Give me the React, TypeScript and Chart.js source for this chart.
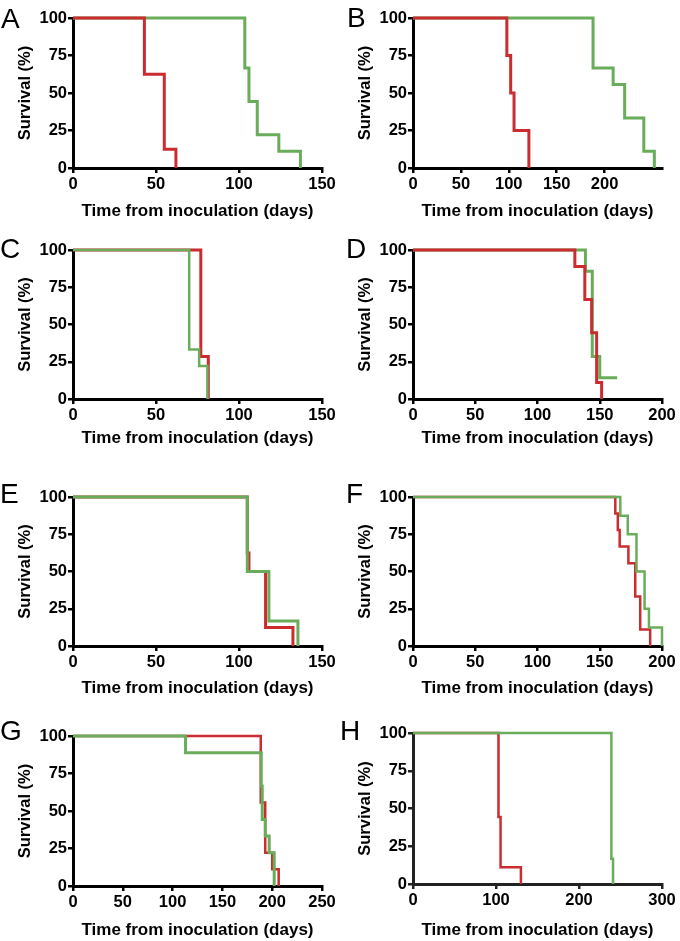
import React, { useEffect, useRef } from "react";
import { Chart, registerables } from "chart.js";

Chart.register(...registerables);

const RED = "#cc2b2f";
const GREEN = "#69ad5b";
const FONT = "'Liberation Sans', Arial, sans-serif";

const xTitleText = "Time from inoculation (days)";
const yTitleText = "Survival (%)";
const yTickValues = [0, 25, 50, 75, 100];

// Panel A
const aRedDays = [0, 43, 55, 62];
const aRedSurvival = [100, 62.5, 12.5, 0];
const aGreenDays = [0, 103.5, 106, 111, 124, 137];
const aGreenSurvival = [100, 66.7, 44.4, 22.2, 11.1, 0];

// Panel B
const bRedDays = [0, 98, 102, 105.5, 121];
const bRedSurvival = [100, 75, 50, 25, 0];
const bGreenDays = [0, 188, 209, 221, 241, 252];
const bGreenSurvival = [100, 66.7, 55.6, 33.3, 11.1, 0];

// Panel C
const cRedDays = [0, 77, 81.5];
const cRedSurvival = [100, 28.6, 0];
const cGreenDays = [0, 70, 76, 81];
const cGreenSurvival = [100, 33.3, 22.2, 0];

// Panel D
const dRedDays = [0, 130, 138, 143.5, 147.5, 151.5];
const dRedSurvival = [100, 88.9, 66.7, 44.4, 11.1, 0];
const dGreenDays = [0, 138.5, 144, 150, 164];
const dGreenSurvival = [100, 85.7, 28.6, 14.3, 14.3];

// Panel E
const eRedDays = [0, 105, 106, 116, 132.5];
const eRedSurvival = [100, 62.5, 50, 12.5, 0];
const eGreenDays = [0, 105, 118, 135.5];
const eGreenSurvival = [100, 50, 16.7, 0];

// Panel F
const fRedDays = [0, 162.5, 164.5, 166, 173, 178.5, 182.5, 190.5];
const fRedSurvival = [100, 88.9, 77.8, 66.7, 55.6, 33.3, 11.1, 0];
const fGreenDays = [0, 166.5, 172.5, 179.5, 186, 189.5, 200];
const fGreenSurvival = [100, 87.5, 75, 50, 25, 12.5, 0];

// Panel G
const gRedDays = [0, 188.5, 193, 200, 206.5];
const gRedSurvival = [100, 55.6, 22.2, 11.1, 0];
const gGreenDays = [0, 113, 189, 190, 193, 197, 202];
const gGreenSurvival = [100, 88.9, 66.7, 44.4, 33.3, 22.2, 0];

// Panel H
const hRedDays = [0, 103, 105.5, 130];
const hRedSurvival = [100, 44.4, 11.1, 0];
const hGreenDays = [0, 239, 241];
const hGreenSurvival = [100, 16.7, 0];

const xMaxes = [150, 260, 150, 200, 150, 200, 250, 300];
const xSteps = [50, 50, 50, 50, 50, 50, 50, 100];
const letters = ["A", "B", "C", "D", "E", "F", "G", "H"];

type Panel = {
  letter: string;
  redDays: number[];
  redSurv: number[];
  greenDays: number[];
  greenSurv: number[];
  xMax: number;
  xStep: number;
  redOnTop: boolean;
  redWidth: number;
  greenWidth: number;
  left: number;
  top: number;
  height: number;
  plotTop: number;
  plotBottom: number;
  titleY: number;
  letterLeft: number;
  letterTop: number;
  axisColor: string;
};

const panels: Panel[] = [
  { letter: letters[0], redDays: aRedDays, redSurv: aRedSurvival, greenDays: aGreenDays, greenSurv: aGreenSurvival, xMax: xMaxes[0], xStep: xSteps[0], redOnTop: true, redWidth: 3, greenWidth: 3, left: 0, top: 0, height: 235, plotTop: 18, plotBottom: 168, titleY: 211, letterLeft: 1, letterTop: 4.5, axisColor: "#000" },
  { letter: letters[1], redDays: bRedDays, redSurv: bRedSurvival, greenDays: bGreenDays, greenSurv: bGreenSurvival, xMax: xMaxes[1], xStep: xSteps[1], redOnTop: true, redWidth: 3, greenWidth: 3, left: 340, top: 0, height: 235, plotTop: 18, plotBottom: 168, titleY: 211, letterLeft: 347, letterTop: 3.5, axisColor: "#000" },
  { letter: letters[2], redDays: cRedDays, redSurv: cRedSurvival, greenDays: cGreenDays, greenSurv: cGreenSurvival, xMax: xMaxes[2], xStep: xSteps[2], redOnTop: false, redWidth: 3, greenWidth: 2.5, left: 0, top: 235, height: 235, plotTop: 15, plotBottom: 164, titleY: 203, letterLeft: 0, letterTop: 234.5, axisColor: "#000" },
  { letter: letters[3], redDays: dRedDays, redSurv: dRedSurvival, greenDays: dGreenDays, greenSurv: dGreenSurvival, xMax: xMaxes[3], xStep: xSteps[3], redOnTop: true, redWidth: 3, greenWidth: 3, left: 340, top: 235, height: 235, plotTop: 15, plotBottom: 164, titleY: 203, letterLeft: 346, letterTop: 234.5, axisColor: "#000" },
  { letter: letters[4], redDays: eRedDays, redSurv: eRedSurvival, greenDays: eGreenDays, greenSurv: eGreenSurvival, xMax: xMaxes[4], xStep: xSteps[4], redOnTop: false, redWidth: 3, greenWidth: 3, left: 0, top: 470, height: 235, plotTop: 27, plotBottom: 176, titleY: 218, letterLeft: 0, letterTop: 479.5, axisColor: "#000" },
  { letter: letters[5], redDays: fRedDays, redSurv: fRedSurvival, greenDays: fGreenDays, greenSurv: fGreenSurvival, xMax: xMaxes[5], xStep: xSteps[5], redOnTop: false, redWidth: 2.5, greenWidth: 2.5, left: 340, top: 470, height: 235, plotTop: 27, plotBottom: 176, titleY: 218, letterLeft: 346, letterTop: 479.5, axisColor: "#000" },
  { letter: letters[6], redDays: gRedDays, redSurv: gRedSurvival, greenDays: gGreenDays, greenSurv: gGreenSurvival, xMax: xMaxes[6], xStep: xSteps[6], redOnTop: false, redWidth: 2.5, greenWidth: 3, left: 0, top: 705, height: 236, plotTop: 31, plotBottom: 181, titleY: 225, letterLeft: 0, letterTop: 716.5, axisColor: "#000" },
  { letter: letters[7], redDays: hRedDays, redSurv: hRedSurvival, greenDays: hGreenDays, greenSurv: hGreenSurvival, xMax: xMaxes[7], xStep: xSteps[7], redOnTop: false, redWidth: 2.5, greenWidth: 2.5, left: 340, top: 705, height: 236, plotTop: 28, plotBottom: 179, titleY: 225, letterLeft: 340, letterTop: 716.5, axisColor: "#222" },
];

const PANEL_W = 340;
const PLOT_LEFT = 73;
const PLOT_RIGHT = 322;

function toPoints(days: number[], surv: number[]) {
  return days.map((d, i) => ({ x: d, y: surv[i] }));
}

function SurvivalPanel({ p }: { p: Panel }) {
  const ref = useRef<HTMLCanvasElement | null>(null);

  useEffect(() => {
    if (!ref.current) return;
    const red = {
      label: "red",
      data: toPoints(p.redDays, p.redSurv),
      borderColor: RED,
      borderWidth: p.redWidth,
      stepped: "before" as const,
      pointRadius: 0,
      fill: false,
      clip: false as any,
    };
    const green = {
      label: "green",
      data: toPoints(p.greenDays, p.greenSurv),
      borderColor: GREEN,
      borderWidth: p.greenWidth,
      stepped: "before" as const,
      pointRadius: 0,
      fill: false,
      clip: false as any,
    };
    const datasets = p.redOnTop ? [red, green] : [green, red];
    const xTitleSize = 17;
    const yTitleSize = 16.5;
    const xAxisHeight = p.height - p.plotBottom;
    const xTitlePadBottom = p.height - p.titleY - (xTitleSize * 1.2) / 2;
    const yTitlePadTop = 25 - (yTitleSize * 1.2) / 2;

    const chart = new Chart(ref.current, {
      type: "line",
      data: { datasets: datasets as any },
      options: {
        animation: false,
        responsive: false,
        maintainAspectRatio: false,
        events: [],
        layout: { padding: { left: 0, top: p.plotTop, right: PANEL_W - PLOT_RIGHT, bottom: 0 } },
        plugins: { legend: { display: false }, tooltip: { enabled: false } },
        scales: {
          x: {
            type: "linear",
            min: 0,
            max: p.xMax,
            afterBuildTicks: (s: any) => {
              s.ticks = s.ticks.filter((t: any) => t.value % p.xStep === 0);
            },
            afterFit: (s: any) => {
              s.height = xAxisHeight;
            },
            ticks: {
              stepSize: p.xStep,
              color: "#000",
              font: { family: FONT, size: 16.5, weight: "bold" },
              padding: 2,
              maxRotation: 0,
              autoSkip: false,
            },
            grid: { drawOnChartArea: false, drawTicks: true, tickLength: 5, color: p.axisColor, lineWidth: 2.5 },
            border: { color: p.axisColor, width: 3 },
            title: {
              display: true,
              text: xTitleText,
              color: "#000",
              font: { family: FONT, size: xTitleSize, weight: "bold" },
              padding: { top: 0, bottom: xTitlePadBottom },
            },
          },
          y: {
            type: "linear",
            min: 0,
            max: 100,
            afterBuildTicks: (s: any) => {
              s.ticks = yTickValues.map((v) => ({ value: v }));
            },
            afterFit: (s: any) => {
              s.width = PLOT_LEFT;
            },
            ticks: {
              stepSize: 25,
              color: "#000",
              font: { family: FONT, size: 16.5, weight: "bold" },
              padding: 1,
              autoSkip: false,
            },
            grid: { drawOnChartArea: false, drawTicks: true, tickLength: 5, color: p.axisColor, lineWidth: 2.5 },
            border: { color: p.axisColor, width: 3 },
            title: {
              display: true,
              text: yTitleText,
              color: "#000",
              font: { family: FONT, size: yTitleSize, weight: "bold" },
              padding: { top: yTitlePadTop, bottom: 0 },
            },
          },
        },
      } as any,
    });
    return () => chart.destroy();
  }, [p]);

  return (
    <>
      <canvas
        ref={ref}
        width={PANEL_W}
        height={p.height}
        style={{ position: "absolute", left: p.left, top: p.top, width: PANEL_W, height: p.height, display: "block" }}
      />
      <div
        style={{
          position: "absolute",
          left: p.letterLeft,
          top: p.letterTop,
          fontFamily: FONT,
          fontSize: 28,
          lineHeight: "28px",
          color: "#000",
          fontWeight: "normal",
        }}
      >
        {p.letter}
      </div>
    </>
  );
}

export default function App() {
  return (
    <div style={{ position: "absolute", left: 0, top: 0, width: 680, height: 941, background: "#fff", overflow: "hidden" }}>
      {panels.map((p) => (
        <SurvivalPanel key={p.letter} p={p} />
      ))}
    </div>
  );
}
